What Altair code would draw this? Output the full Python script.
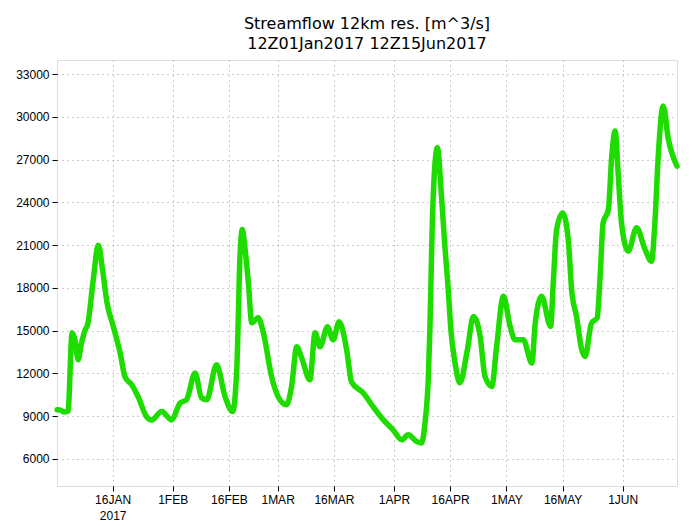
import altair as alt
import pandas as pd

# days since 2017-01-01 00Z and streamflow values (m^3/s)
days = [0.2, 1.0, 2.0, 3.1, 4.2, 5.0, 5.8, 6.6, 7.6, 8.4, 9.8, 11.2, 12.3, 13.5, 15.2, 17.0,
        18.3, 20.1, 21.8, 24.1, 25.4, 28.1, 30.7, 33.0, 34.7, 37.0, 38.7, 40.1, 42.7, 45.0,
        47.0, 48.1, 49.0, 49.6, 50.2, 51.2, 52.1, 53.8, 55.2, 57.4, 59.6, 61.4, 62.7, 64.1,
        65.4, 67.6, 69.0, 70.3, 72.3, 73.8, 75.4, 77.4, 78.7, 81.8, 84.5, 87.2, 89.8, 92.1,
        93.8, 96.1, 97.4, 98.3, 99.2, 99.6, 99.9, 100.2, 100.7, 101.6, 102.7, 103.6, 104.5,
        105.2, 106.3, 107.6, 109.6, 111.2, 113.0, 114.3, 116.1, 117.4, 119.2, 121.0, 122.3,
        124.5, 126.8, 127.7, 129.4, 131.8, 132.5, 133.4, 135.0, 136.5, 137.4, 138.7, 140.1,
        141.0, 142.7, 144.2, 145.0, 145.8, 147.2, 148.1, 149.0, 149.8, 150.7, 152.5, 154.7,
        157.0, 158.7, 159.6, 160.5, 161.8, 163.2, 165.5]
flow = [9450, 9440, 9300, 9350, 14860, 14300, 12960, 14000, 15000, 15500, 18500, 21000, 19300,
        16970, 15280, 13450, 11760, 11200, 10360, 8950, 8740, 9330, 8740, 9930, 10150, 12040,
        10290, 10150, 12610, 10360, 9330, 12260, 20480, 22100, 21000, 18370, 15560, 15910,
        14860, 11760, 10150, 9800, 11060, 13870, 13100, 11550, 14860, 13870, 15280, 14370,
        15630, 13660, 11410, 10640, 9660, 8740, 8040, 7340, 7690, 7220, 7120, 8530, 11790,
        15070, 18580, 22100, 25610, 27840, 24430, 20920, 17880, 15070, 12750, 11340, 13660,
        16000, 14600, 11790, 11080, 13900, 17410, 15300, 14370, 14370, 12730, 15560, 17410,
        15300, 18350, 22100, 23270, 21400, 17880, 16000, 13660, 13190, 15540, 15890, 18820,
        22570, 23500, 27250, 29010, 26090, 22570, 20580, 22220, 20690, 19870, 22570, 27250,
        30770, 28430, 26550]

y_ticks = [6000, 9000, 12000, 15000, 18000, 21000, 24000, 27000, 30000, 33000]
x_ticks = [(1, 16), (2, 1), (2, 16), (3, 1), (3, 16), (4, 1), (4, 16), (5, 1), (5, 16), (6, 1)]

base = pd.Timestamp("2017-01-01T00:00:00Z")
df = pd.DataFrame({
    "time": [(base + pd.to_timedelta(d, unit="D")).strftime("%Y-%m-%dT%H:%M:%SZ") for d in days],
    "flow": flow,
})

green = "#1fdc00"

xvals = [alt.DateTime(year=2017, month=m, date=d, utc=True) for m, d in x_ticks]

chart = alt.Chart(df).mark_line(
    color=green, strokeWidth=5.5, interpolate="monotone", strokeCap="round", strokeJoin="round"
).encode(
    x=alt.X("time:T", scale=alt.Scale(type="utc",
                                      domain=[alt.DateTime(year=2017, month=1, date=1, hours=4, utc=True),
                                              alt.DateTime(year=2017, month=6, date=15, hours=12, utc=True)]),
            axis=alt.Axis(values=xvals, title=None,
                          labelExpr="utcmonth(datum.value)==0 && utcdate(datum.value)==16 ? ['16JAN','2017'] : upper(utcFormat(datum.value, '%-d%b'))",
                          labelFont="Liberation Sans", labelFontSize=12, labelColor="#000",
                          labelPadding=3, labelLineHeight=16, tickSize=5, tickColor="#000", domain=False,
                          grid=True, gridDash=[1, 4], gridColor="#999", gridWidth=1,
                          labelFlush=False, labelOverlap=False)),
    y=alt.Y("flow:Q", scale=alt.Scale(domain=[4100, 34000], nice=False, zero=False),
            axis=alt.Axis(values=y_ticks, format="d", title=None,
                          labelFont="Liberation Sans", labelFontSize=12, labelColor="#000",
                          labelPadding=3, tickSize=5, tickColor="#000", domain=False,
                          grid=True, gridDash=[1, 4], gridColor="#999", gridWidth=1)),
).properties(
    width=620, height=426,
    padding={"left": 49, "top": 52, "right": 10, "bottom": 36},
    autosize=alt.AutoSizeParams(type="none"),
    title=alt.TitleParams(text=["Streamflow 12km res. [m^3/s]", "12Z01Jan2017 12Z15Jun2017"],
                          font="DejaVu Sans", fontSize=16, fontWeight="normal", color="#000",
                          anchor="middle", offset=8, lineHeight=20),
).configure_view(stroke="#000", strokeWidth=2).configure(background="white")

chart.save("out.html", embed_options={"renderer": "svg", "actions": False})
